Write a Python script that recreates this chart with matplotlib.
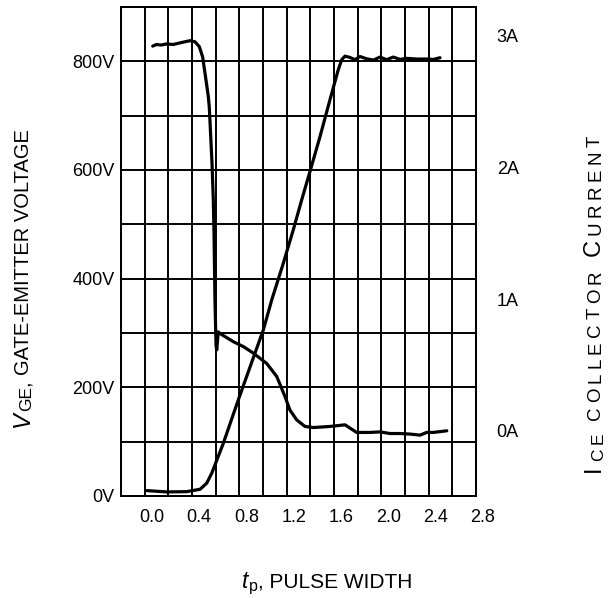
import matplotlib
matplotlib.use("Agg")
import matplotlib.pyplot as plt
import matplotlib.transforms as mtransforms
import numpy as np

plt.rcParams['font.family'] = ['Liberation Sans', 'DejaVu Sans']

# voltage trace (left axis, V) against pulse width (0.2 per division)
t_vge = [0.068, 0.10, 0.14, 0.186, 0.24, 0.299, 0.34, 0.383, 0.425, 0.462,
         0.490, 0.510, 0.538, 0.546, 0.569, 0.580, 0.586, 0.594, 0.603, 0.609,
         0.622, 0.637, 0.749, 0.834, 0.918, 1.031, 1.116, 1.186, 1.228, 1.285,
         1.355, 1.425, 1.566, 1.693, 1.735, 1.792, 1.904, 1.989, 2.073, 2.158,
         2.242, 2.327, 2.383, 2.439, 2.553]
vge = [828, 831, 830, 832, 831, 834, 836, 838, 836, 827,
       808, 778, 735, 716, 613, 545, 484, 361, 278, 269,
       302, 299, 284, 275, 263, 244, 220, 183, 158, 140,
       128, 126, 128, 131, 125, 117, 117, 118, 115, 115,
       114, 112, 117, 117, 120]

# current trace (right axis, A)
t_ice = [0.017, 0.186, 0.355, 0.468, 0.524, 0.567, 0.665, 0.791, 0.932, 1.003,
         1.074, 1.172, 1.256, 1.327, 1.397, 1.482, 1.566, 1.636, 1.665, 1.693,
         1.735, 1.777, 1.820, 1.876, 1.932, 1.989, 2.045, 2.101, 2.158, 2.214,
         2.299, 2.383, 2.439, 2.496]
ice = [-0.453, -0.463, -0.461, -0.443, -0.397, -0.321, -0.093, 0.235, 0.590, 0.767,
       0.995, 1.274, 1.527, 1.754, 1.969, 2.235, 2.514, 2.742, 2.818, 2.845,
       2.835, 2.818, 2.842, 2.825, 2.815, 2.838, 2.818, 2.838, 2.820, 2.828,
       2.823, 2.823, 2.820, 2.833]

x_ticks = [0.0, 0.4, 0.8, 1.2, 1.6, 2.0, 2.4, 2.8]
v_ticks = [0, 200, 400, 600, 800]
v_labels = ['0V', '200V', '400V', '600V', '800V']
a_ticks = [0, 1, 2, 3]
a_labels = ['0A', '1A', '2A', '3A']

W, H = 616, 598
fig = plt.figure(figsize=(W / 100, H / 100), dpi=100)
ax = fig.add_axes([121 / W, 1 - 496 / H, 355 / W, 489 / H])
ax2 = ax.twinx()

ax.set_xlim(-0.2, 2.8)
ax.set_ylim(0, 900)
ax2.set_ylim(-0.494, 3.218)

ax.set_xticks(x_ticks)
ax.set_xticklabels([f'{v:.1f}' for v in x_ticks])
ax.set_xticks(np.arange(-0.2, 2.81, 0.2), minor=True)
ax.set_yticks(v_ticks)
ax.set_yticklabels(v_labels)
ax.set_yticks(np.arange(0, 901, 100), minor=True)
ax2.set_yticks(a_ticks)
ax2.set_yticklabels(a_labels)

ax.grid(True, which='both', color='black', lw=1.4)
ax.set_axisbelow(True)

ax.tick_params(which='both', length=0)
ax.tick_params(axis='x', pad=9, labelsize=13)
ax.tick_params(axis='y', pad=4.5, labelsize=13)
ax2.tick_params(length=0, pad=14.9, labelsize=13)

# tick labels sit a little right of their grid lines
shift = mtransforms.ScaledTranslation(7 / 100, 0, fig.dpi_scale_trans)
for lab in ax.get_xticklabels():
    lab.set_transform(lab.get_transform() + shift)

for a in (ax, ax2):
    for s in a.spines.values():
        s.set_linewidth(1.4)

ax.plot(t_vge, vge, color='black', lw=2.3, solid_capstyle='round')
ax2.plot(t_ice, ice, color='black', lw=2.3, solid_capstyle='round')

# axis titles built piece by piece (pixel coords from bottom-left)
renderer = fig.canvas.get_renderer()
ident = mtransforms.IdentityTransform()


def stack_up(x, y, pieces, track=0.0):
    for s, size, style, dx, gap in pieces:
        for ch in (s if track else [s]):
            if ch == ' ':
                y += size * 0.4 + track
                continue
            t = fig.text(x + dx, y, ch, fontsize=size, style=style, rotation=90,
                         rotation_mode='anchor', ha='left', va='baseline',
                         transform=ident)
            y += t.get_window_extent(renderer).height + track
        y += gap


def stack_right(x, y, pieces):
    for s, size, style, dy, gap in pieces:
        t = fig.text(x, y + dy, s, fontsize=size, style=style,
                     ha='left', va='baseline', transform=ident)
        x += t.get_window_extent(renderer).width + gap


stack_up(29, H - 427, [('V', 17, 'italic', 0, 0), ('GE', 12.5, 'normal', 2, 0),
                       (',', 14.5, 'normal', 0, 6),
                       ('GATE-EMITTER VOLTAGE', 14.5, 'normal', 0, 0)])

stack_up(600, H - 472, [('I', 17, 'normal', 0, 0), ('CE', 12.5, 'normal', 3, 0),
                        (' ', 12, 'normal', 0, 0), ('COLLECTOR', 13.5, 'normal', 0, 0),
                        (' ', 16, 'normal', 0, 0), ('C', 17, 'normal', 0, 0),
                        ('URRENT', 13.5, 'normal', 0, 0)], track=4.3)

stack_right(242, H - 588, [('t', 16.5, 'italic', 0, 1), ('p', 11.5, 'normal', -3, 0),
                           (', PULSE WIDTH', 15, 'normal', 0, 0)])

fig.savefig('out.png', dpi=100)
